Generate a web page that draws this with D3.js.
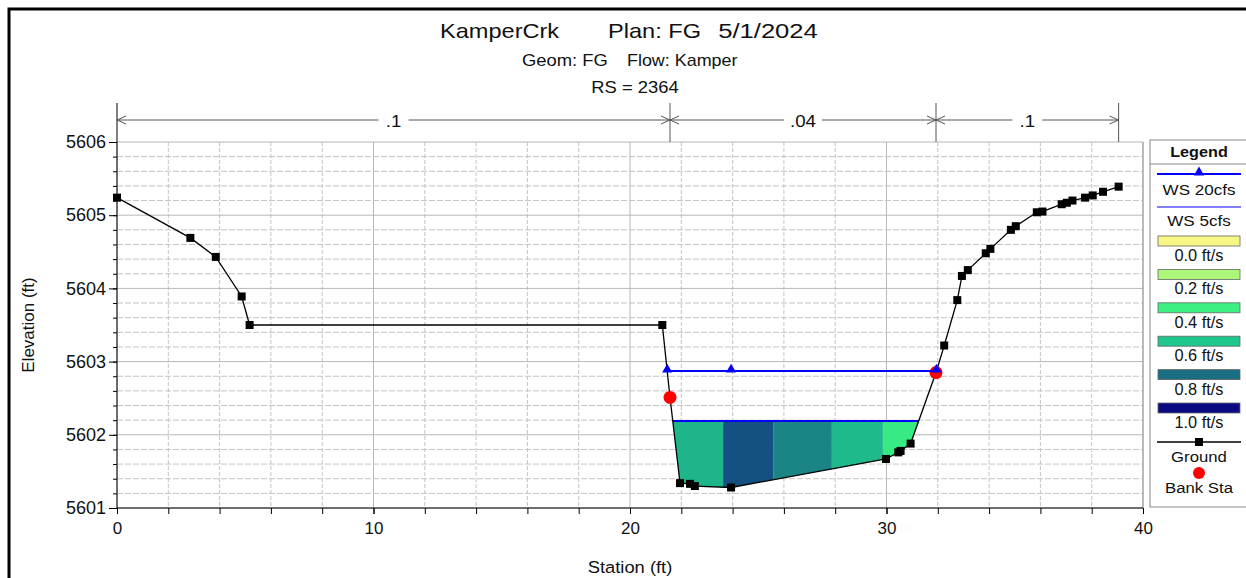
<!DOCTYPE html>
<html>
<head>
<meta charset="utf-8">
<script src="https://cdn.jsdelivr.net/npm/d3@7"></script>
<style>
body { margin: 0; background: #fff; }
svg { display: block; font-family: Arial, 'Liberation Sans', sans-serif; }
</style>
</head>
<body>
<script>
// ground survey points (station ft / elevation ft)
var groundSta = [0, 2.86, 3.85, 4.86, 5.17, 21.26, 21.56, 21.95, 22.34, 22.53, 23.94, 29.98, 30.46, 30.55, 30.94,
    31.93, 32.25, 32.76, 32.94, 33.17, 33.87, 34.05, 34.85, 35.04, 35.86, 36.08, 36.83, 37.03, 37.25, 37.74, 38.04, 38.44, 39.05];
var groundElev = [5605.24, 5604.69, 5604.43, 5603.89, 5603.50, 5603.50, 5602.51, 5601.34, 5601.33, 5601.30, 5601.28, 5601.67, 5601.76, 5601.78, 5601.88,
    5602.85, 5603.22, 5603.84, 5604.17, 5604.25, 5604.48, 5604.54, 5604.80, 5604.85, 5605.04, 5605.05, 5605.15, 5605.17, 5605.20, 5605.24, 5605.27, 5605.32, 5605.39];

var bankSta = [21.56, 31.93];
var bankElev = [5602.51, 5602.85];

// water surfaces
var ws20Elev = 5602.87;
var ws20MidMarks = [23.94];
var ws5Elev = 5602.19;

// velocity distribution slices for WS 5cfs
var sliceEdges = [21.56, 23.63, 25.6, 27.87, 29.86, 31.93];
var sliceVel = [0.64, 0.86, 0.75, 0.63, 0.43];

// manning's n
var nBreaks = [0, 21.56, 31.93, 39.05];
var nLabels = ['.1', '.04', '.1'];

// legend
var legendVel = [0, 0.2, 0.4, 0.6, 0.8, 1.0];
var legendLabels = ['0.0 ft/s', '0.2 ft/s', '0.4 ft/s', '0.6 ft/s', '0.8 ft/s', '1.0 ft/s'];
var legendColors = ['#f7f786', '#aaf77a', '#3cf082', '#1fc78c', '#196e82', '#0a0a82'];

var xTicks = [0, 10, 20, 30, 40];
var yTicks = [5601, 5602, 5603, 5604, 5605, 5606];

var W = 1246, H = 578;
var margin = { left: 117, right: 103, top: 142, bottom: 70 };

var svg = d3.select('body').append('svg')
    .attr('width', W)
    .attr('height', H);

var x = d3.scaleLinear().domain([0, 40]).range([margin.left, W - margin.right]);
var y = d3.scaleLinear().domain([5601, 5606]).range([H - margin.bottom, margin.top]);
var velColor = d3.scaleLinear().domain(legendVel).range(legendColors).interpolate(d3.interpolateRgb);

// stretched text helper (source screenshot is a bit wide)
function stext(parent, str, px, py, size, anchor, sx) {
    return parent.append('text')
        .attr('transform', 'translate(' + px + ',' + py + ') scale(' + (sx || 1.12) + ',1)')
        .attr('text-anchor', anchor || 'middle')
        .attr('font-size', size)
        .attr('fill', '#111')
        .text(str);
}

// outer frame
svg.append('path')
    .attr('d', 'M9,' + H + 'V9H' + W)
    .attr('fill', 'none')
    .attr('stroke', '#000')
    .attr('stroke-width', 3);

// titles
stext(svg, 'KamperCrk', 440, 38, 20.5, 'start', 1.15);
stext(svg, 'Plan: FG', 608, 38, 20.5, 'start', 1.15);
stext(svg, '5/1/2024', 768, 38, 20.5, 'middle', 1.25);
stext(svg, 'Geom: FG', 522, 66, 16, 'start', 1.15);
stext(svg, 'Flow: Kamper', 627, 66, 16, 'start', 1.12);
stext(svg, 'RS = 2364', 635, 93, 16, 'middle', 1.15);

// grid
var grid = svg.append('g').attr('class', 'grid');
var vLines = d3.range(0, 21).map(function(i) { return i * 2; });
var hLines = d3.range(0, 26).map(function(i) { return +(5601 + i * 0.2).toFixed(1); });

grid.selectAll('.v')
    .data(vLines)
    .enter().append('line')
    .attr('x1', function(d) { return x(d); })
    .attr('x2', function(d) { return x(d); })
    .attr('y1', y(5606))
    .attr('y2', y(5601))
    .attr('stroke', function(d) { return d % 10 === 0 ? '#b8b8b8' : '#c4c4c4'; })
    .attr('stroke-dasharray', function(d) { return d % 10 === 0 ? null : '4,2'; });

grid.selectAll('.h')
    .data(hLines)
    .enter().append('line')
    .attr('x1', x(0))
    .attr('x2', x(40))
    .attr('y1', function(d) { return y(d); })
    .attr('y2', function(d) { return y(d); })
    .attr('stroke', function(d) { return Math.abs(d - Math.round(d)) < 1e-6 ? '#b8b8b8' : '#c4c4c4'; })
    .attr('stroke-dasharray', function(d) { return Math.abs(d - Math.round(d)) < 1e-6 ? null : '6,2'; });

// plot right edge
svg.append('line')
    .attr('x1', x(40)).attr('x2', x(40))
    .attr('y1', y(5606)).attr('y2', y(5601))
    .attr('stroke', '#999');

// wetted section polygon for a water surface
function wetSection(ws) {
    var n = groundSta.length,
        iMin = d3.minIndex(groundElev),
        l = iMin, r = iMin;
    while (l > 0 && groundElev[l - 1] < ws) l--;
    while (r < n - 1 && groundElev[r + 1] < ws) r++;
    function cross(i0, i1) {
        var t = (ws - groundElev[i0]) / (groundElev[i1] - groundElev[i0]);
        return groundSta[i0] + t * (groundSta[i1] - groundSta[i0]);
    }
    var pts = [[cross(l - 1, l), ws]];
    for (var i = l; i <= r; i++) pts.push([groundSta[i], groundElev[i]]);
    pts.push([cross(r + 1, r), ws]);
    return pts;
}

var wet5 = wetSection(ws5Elev),
    wet20 = wetSection(ws20Elev);

svg.append('clipPath')
    .attr('id', 'wet5')
    .append('polygon')
    .attr('points', wet5.map(function(p) { return x(p[0]) + ',' + y(p[1]); }).join(' '));

// velocity slices
svg.append('g')
    .attr('clip-path', 'url(#wet5)')
    .selectAll('rect')
    .data(sliceVel)
    .enter().append('rect')
    .attr('x', function(d, i) { return x(sliceEdges[i]); })
    .attr('width', function(d, i) { return x(sliceEdges[i + 1]) - x(sliceEdges[i]); })
    .attr('y', y(ws5Elev))
    .attr('height', y(5601) - y(ws5Elev))
    .attr('fill', function(d) { return velColor(d); });

svg.append('line')
    .attr('x1', x(wet5[0][0])).attr('x2', x(wet5[wet5.length - 1][0]))
    .attr('y1', y(ws5Elev)).attr('y2', y(ws5Elev))
    .attr('stroke', '#0000ff')
    .attr('stroke-width', 2);

// ground
var groundLine = d3.line()
    .x(function(d, i) { return x(groundSta[i]); })
    .y(function(d) { return y(d); });

svg.append('path')
    .attr('d', groundLine(groundElev))
    .attr('fill', 'none')
    .attr('stroke', '#000')
    .attr('stroke-width', 1.3);

svg.selectAll('.gpt')
    .data(groundElev)
    .enter().append('rect')
    .attr('x', function(d, i) { return x(groundSta[i]) - 4; })
    .attr('y', function(d) { return y(d) - 4; })
    .attr('width', 8)
    .attr('height', 8)
    .attr('fill', '#000');

// bank stations
svg.selectAll('.bank')
    .data(bankElev)
    .enter().append('circle')
    .attr('cx', function(d, i) { return x(bankSta[i]); })
    .attr('cy', function(d) { return y(d); })
    .attr('r', 6.5)
    .attr('fill', '#ff0000');

// WS 20cfs
svg.append('line')
    .attr('x1', x(wet20[0][0])).attr('x2', x(wet20[wet20.length - 1][0]))
    .attr('y1', y(ws20Elev)).attr('y2', y(ws20Elev))
    .attr('stroke', '#0000ff')
    .attr('stroke-width', 2);

var ws20Marks = [wet20[0][0]].concat(ws20MidMarks).concat([wet20[wet20.length - 1][0]]);
var tri = d3.symbol().type(d3.symbolTriangle).size(45);
svg.selectAll('.wsm')
    .data(ws20Marks)
    .enter().append('path')
    .attr('d', tri)
    .attr('transform', function(d) { return 'translate(' + x(d) + ',' + (y(ws20Elev) - 1.5) + ')'; })
    .attr('fill', '#0000ff');

// axes
var yAxis = svg.append('g')
    .attr('transform', 'translate(' + x(0) + ',0)')
    .call(d3.axisLeft(y).tickValues(yTicks).tickSize(8).tickPadding(3).tickFormat(d3.format('d')));
yAxis.select('.domain').remove();
yAxis.selectAll('text').attr('font-size', 18).attr('fill', '#111').attr('font-family', 'Arial, Liberation Sans, sans-serif');

var yMinor = svg.append('g')
    .attr('transform', 'translate(' + x(0) + ',0)')
    .call(d3.axisLeft(y).tickValues(hLines).tickSize(4).tickFormat(''));
yMinor.select('.domain').remove();

var xAxis = svg.append('g')
    .attr('transform', 'translate(0,' + y(5601) + ')')
    .call(d3.axisBottom(x).tickValues(xTicks).tickSize(6).tickPadding(8).tickFormat(d3.format('d')));
xAxis.select('.domain').remove();
xAxis.selectAll('text').attr('font-size', 17).attr('fill', '#111').attr('font-family', 'Arial, Liberation Sans, sans-serif');

var xMinor = svg.append('g')
    .attr('transform', 'translate(0,' + y(5601) + ')')
    .call(d3.axisBottom(x).tickValues(vLines).tickSize(6).tickFormat(''));
xMinor.select('.domain').remove();

svg.append('line')
    .attr('x1', x(0)).attr('x2', x(40))
    .attr('y1', y(5601)).attr('y2', y(5601))
    .attr('stroke', '#000');

svg.append('line')
    .attr('x1', x(0)).attr('x2', x(0))
    .attr('y1', 103).attr('y2', y(5601))
    .attr('stroke', '#000');

stext(svg, 'Station (ft)', (x(0) + x(40)) / 2, 573, 17, 'middle', 1.08);
svg.append('text')
    .attr('transform', 'translate(34,325) rotate(-90)')
    .attr('text-anchor', 'middle')
    .attr('font-size', 17)
    .attr('fill', '#111')
    .text('Elevation (ft)');

// manning's n bar
var nBar = svg.append('g').attr('class', 'nbar');
var nY = 120;

nBar.selectAll('.sep')
    .data(nBreaks.slice(1))
    .enter().append('line')
    .attr('x1', function(d) { return x(d); })
    .attr('x2', function(d) { return x(d); })
    .attr('y1', 103)
    .attr('y2', y(5606))
    .attr('stroke', '#555');

nLabels.forEach(function(lbl, i) {
    var x0 = x(nBreaks[i]), x1 = x(nBreaks[i + 1]), xm = (x0 + x1) / 2;
    nBar.append('line')
        .attr('x1', x0).attr('x2', x1)
        .attr('y1', nY).attr('y2', nY)
        .attr('stroke', '#555');
    nBar.append('path')
        .attr('d', 'M' + (x0 + 9) + ',' + (nY - 4) + 'L' + x0 + ',' + nY + 'L' + (x0 + 9) + ',' + (nY + 4) +
            'M' + (x1 - 9) + ',' + (nY - 4) + 'L' + x1 + ',' + nY + 'L' + (x1 - 9) + ',' + (nY + 4))
        .attr('fill', 'none')
        .attr('stroke', '#555');
    var w = lbl.length * 8 + 14;
    nBar.append('rect')
        .attr('x', xm - w / 2).attr('y', nY - 8)
        .attr('width', w).attr('height', 16)
        .attr('fill', '#fff');
    stext(nBar, lbl, xm, nY + 7, 17, 'middle', 1.1);
});

// legend
var lg = svg.append('g').attr('class', 'legend');
var lx = 1199;

lg.append('rect')
    .attr('x', 1150).attr('y', 140)
    .attr('width', 110).attr('height', 367)
    .attr('fill', '#fff')
    .attr('stroke', '#888');
lg.append('line')
    .attr('x1', 1150).attr('x2', W)
    .attr('y1', 164).attr('y2', 164)
    .attr('stroke', '#888');
stext(lg, 'Legend', lx, 157, 15, 'middle', 1.08).attr('font-weight', 'bold');

lg.append('line')
    .attr('x1', 1157).attr('x2', 1241)
    .attr('y1', 174).attr('y2', 174)
    .attr('stroke', '#0000ff').attr('stroke-width', 2);
lg.append('path')
    .attr('d', tri)
    .attr('transform', 'translate(' + lx + ',172.5)')
    .attr('fill', '#0000ff');
stext(lg, 'WS 20cfs', lx, 195, 15.5, 'middle', 1.1);

lg.append('line')
    .attr('x1', 1157).attr('x2', 1241)
    .attr('y1', 207).attr('y2', 207)
    .attr('stroke', '#0000ff').attr('stroke-width', 1);
stext(lg, 'WS 5cfs', lx, 226, 15.5, 'middle', 1.1);

lg.selectAll('.sw')
    .data(legendVel)
    .enter().append('rect')
    .attr('x', 1158)
    .attr('y', function(d, i) { return 236 + i * 33.4; })
    .attr('width', 82)
    .attr('height', 10)
    .attr('fill', function(d) { return velColor(d); })
    .attr('stroke', '#666')
    .attr('stroke-width', 0.8);

legendLabels.forEach(function(lbl, i) {
    stext(lg, lbl, lx, 261 + i * 33.4, 16, 'middle', 1.02);
});

lg.append('line')
    .attr('x1', 1157).attr('x2', 1241)
    .attr('y1', 442).attr('y2', 442)
    .attr('stroke', '#000').attr('stroke-width', 1.3);
lg.append('rect')
    .attr('x', lx - 4).attr('y', 438)
    .attr('width', 8).attr('height', 8)
    .attr('fill', '#000');
stext(lg, 'Ground', lx, 462, 15.5, 'middle', 1.08);

lg.append('circle')
    .attr('cx', lx).attr('cy', 473)
    .attr('r', 6)
    .attr('fill', '#ff0000');
stext(lg, 'Bank Sta', lx, 493, 15.5, 'middle', 1.08);
</script>
</body>
</html>
